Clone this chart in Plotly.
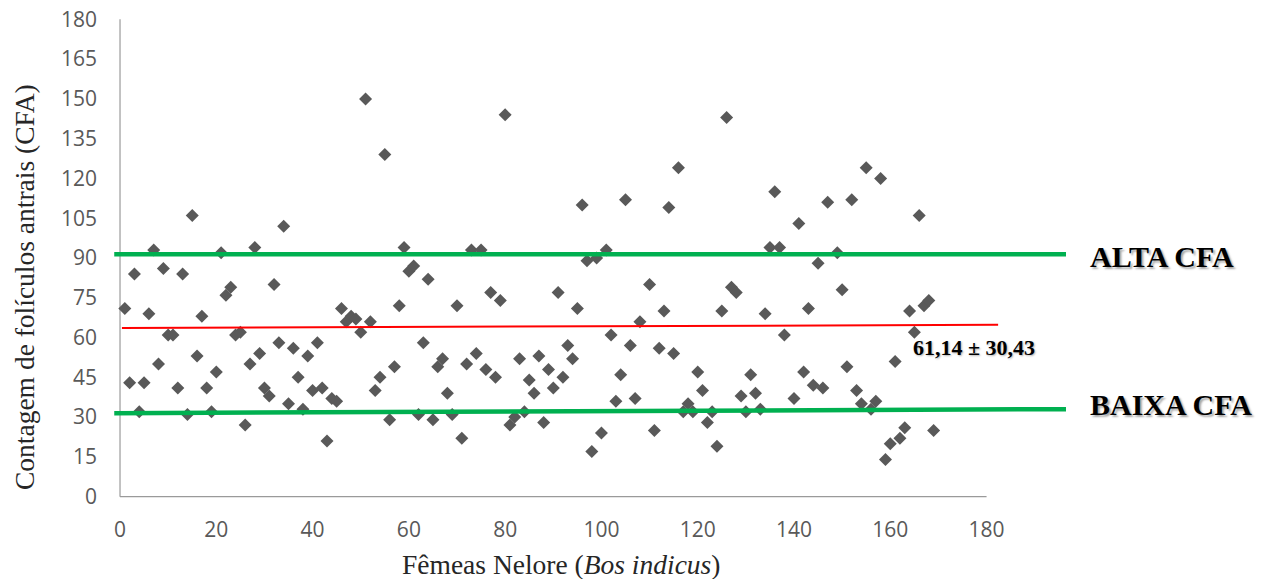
import plotly.graph_objects as go

# ---- data ----
female_id = [1, 2, 3, 4, 5, 6, 7, 8, 9, 10, 11, 12, 13, 14, 15, 16, 17, 18, 19, 20,
             21, 22, 23, 24, 25, 26, 27, 28, 29, 30, 31, 32, 33, 34, 35, 36, 37, 38, 39, 40,
             41, 42, 43, 44, 45, 46, 47, 48, 49, 50, 51, 52, 53, 54, 55, 56, 57, 58, 59, 60,
             61, 62, 63, 64, 65, 66, 67, 68, 69, 70, 71, 72, 73, 74, 75, 76, 77, 78, 79, 80,
             81, 82, 83, 84, 85, 86, 87, 88, 89, 90, 91, 92, 93, 94, 95, 96, 97, 98, 99, 100,
             101, 102, 103, 104, 105, 106, 107, 108, 110, 111, 112, 113, 114, 115, 116, 117, 118, 119, 120,
             121, 122, 123, 124, 125, 126, 127, 128, 129, 130, 131, 132, 133, 134, 135, 136, 137, 138, 140,
             141, 142, 143, 144, 145, 146, 147, 149, 150, 151, 152, 153, 154, 155, 156, 157, 158, 159, 160,
             161, 162, 163, 164, 165, 166, 167, 168, 169]
cfa_count = [71, 43, 84, 32, 43, 69, 93, 50, 86, 61, 61, 41, 84, 31, 106, 53, 68, 41, 32, 47,
             92, 76, 79, 61, 62, 27, 50, 94, 54, 41, 38, 80, 58, 102, 35, 56, 45, 33, 53, 40,
             58, 41, 21, 37, 36, 71, 66, 68, 67, 62, 150, 66, 40, 45, 129, 29, 49, 72, 94, 85,
             87, 31, 58, 82, 29, 49, 52, 39, 31, 72, 22, 50, 93, 54, 93, 48, 77, 45, 74, 144,
             27, 30, 52, 32, 44, 39, 53, 28, 48, 41, 77, 45, 57, 52, 71, 110, 89, 17, 90, 24,
             93, 61, 36, 46, 112, 57, 37, 66, 80, 25, 56, 70, 109, 54, 124, 32, 35, 32, 47,
             40, 28, 32, 19, 70, 143, 79, 77, 38, 32, 46, 39, 33, 69, 94, 115, 94, 61, 37,
             103, 47, 71, 42, 88, 41, 111, 92, 78, 49, 112, 40, 35, 124, 33, 36, 120, 14, 20,
             51, 22, 26, 70, 62, 106, 72, 74, 25]

x_ticks = [0, 20, 40, 60, 80, 100, 120, 140, 160, 180]
y_ticks = [0, 15, 30, 45, 60, 75, 90, 105, 120, 135, 150, 165, 180]

# reference lines (x start, x end, y start, y end)
high_line = [-1.2, 196.5, 91.4, 91.4]
low_line = [-1.2, 196.5, 31.5, 33.0]
mean_line = [0.4, 182.4, 63.6, 64.8]

high_label = "ALTA CFA"
low_label = "BAIXA CFA"
mean_label = "61,14 ± 30,43"

SERIF = "Liberation Serif, Times New Roman, serif"
SANS = "Open Sans, Liberation Sans, sans-serif"

fig = go.Figure()
fig.add_trace(go.Scatter(
    x=female_id, y=cfa_count, mode="markers",
    marker=dict(symbol="diamond", size=10, color="#595959"),
    showlegend=False, hoverinfo="x+y",
))

# axis frame lines
fig.add_shape(type="line", x0=x_ticks[0], x1=x_ticks[0], y0=y_ticks[0], y1=y_ticks[-1],
              line=dict(color="#9a9a9a", width=1.2), layer="below")
fig.add_shape(type="line", x0=x_ticks[0], x1=x_ticks[-1], y0=y_ticks[0], y1=y_ticks[0],
              line=dict(color="#9a9a9a", width=1.2), layer="below")

# threshold / mean lines
fig.add_shape(type="line", x0=high_line[0], x1=high_line[1], y0=high_line[2], y1=high_line[3],
              line=dict(color="#00b050", width=4.5))
fig.add_shape(type="line", x0=low_line[0], x1=low_line[1], y0=low_line[2], y1=low_line[3],
              line=dict(color="#00b050", width=4.5))
fig.add_shape(type="line", x0=mean_line[0], x1=mean_line[1], y0=mean_line[2], y1=mean_line[3],
              line=dict(color="#ff0000", width=2))

label_font = dict(family=SERIF, size=30, color="#000000", weight="bold",
                  shadow="2px 2px 2px rgba(0,0,0,0.35)")
fig.add_annotation(text=high_label, xref="paper", x=1.0235, xanchor="left",
                   yref="y", y=high_line[3] - 1, yanchor="middle",
                   showarrow=False, font=label_font)
fig.add_annotation(text=low_label, xref="paper", x=1.0235, xanchor="left",
                   yref="y", y=low_line[3] + 1.6, yanchor="middle",
                   showarrow=False, font=label_font)
fig.add_annotation(text=mean_label, xref="x", x=164.3, xanchor="left",
                   yref="y", y=56.1, yanchor="middle", showarrow=False,
                   font=dict(family=SERIF, size=22, color="#000000", weight="bold",
                             shadow="1px 1px 2px rgba(0,0,0,0.3)"))

# axis titles
fig.add_annotation(text="Fêmeas Nelore (<i>Bos indicus</i>)", xref="paper", x=0.4693,
                   xanchor="center", yref="paper", y=-0.139, yanchor="middle",
                   showarrow=False, font=dict(family=SERIF, size=27.5, color="#262626"))
fig.add_annotation(text="Contagem de folículos antrais (CFA)", xref="paper", x=-0.0934,
                   xanchor="center", yref="paper", y=0.4397, yanchor="middle",
                   textangle=-90, showarrow=False,
                   font=dict(family=SERIF, size=27.5, color="#262626"))

fig.update_xaxes(range=[-1.25, 196.5], tickvals=x_ticks, ticktext=[str(v) for v in x_ticks],
                 showgrid=False, zeroline=False, showline=False, ticks="",
                 tickfont=dict(family=SANS, size=21, color="#595959"),
                 ticklabelstandoff=17, automargin=False)
fig.update_yaxes(range=[-0.5, 180.5], tickvals=y_ticks, ticktext=[str(v) for v in y_ticks],
                 showgrid=False, zeroline=False, showline=False, ticks="",
                 tickfont=dict(family=SANS, size=21, color="#595959"),
                 ticklabelstandoff=16, automargin=False)

fig.update_layout(width=1277, height=579, autosize=False,
                  margin=dict(l=114, r=210.5, t=17.7, b=80.7, pad=0, autoexpand=False),
                  plot_bgcolor="white", paper_bgcolor="white")

fig.write_html("out.html", config={"displayModeBar": False},
               post_script="document.body.style.margin='0';document.body.style.overflow='hidden';")
